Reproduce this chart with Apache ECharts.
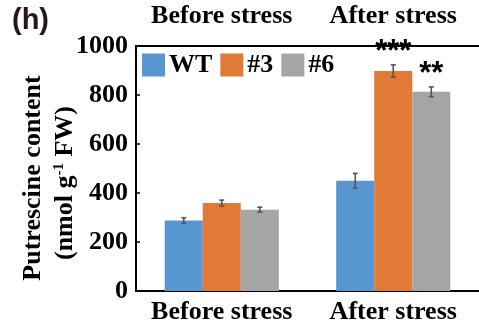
<!DOCTYPE html>
<html><head><meta charset="utf-8">
<script src="https://cdn.jsdelivr.net/npm/echarts@6/dist/echarts.min.js"></script>
<style>html,body{margin:0;padding:0;background:#fff}#c{width:479px;height:327px}</style>
</head><body><div id="c"></div>
<script>
const categories = ['Before stress', 'After stress'];
const seriesNames = ['WT', '#3', '#6'];
const wtValues = [288, 450];
const l3Values = [359, 898];
const l6Values = [332, 813];
const wtErr = [11, 30];
const l3Err = [12, 25];
const l6Err = [10, 20];
const wtSig = ['', ''];
const l3Sig = ['', '***'];
const l6Sig = ['', '**'];
const yTicks = [0, 200, 400, 600, 800, 1000];
const colors = ['#5796CE', '#E17A37', '#A5A5A5'];

const values = [wtValues, l3Values, l6Values];
const errs = [wtErr, l3Err, l6Err];
const sigs = [wtSig, l3Sig, l6Sig];
const font = '"Liberation Serif","Times New Roman",serif';
const gapRatio = 0.335;

const chart = echarts.init(document.getElementById('c'));
const series = [];
seriesNames.forEach((n, i) => {
  series.push({
    name: n, type: 'bar', data: values[i], barGap: 0, barCategoryGap: (gapRatio*100)+'%',
    itemStyle: {color: colors[i]}, xAxisIndex: 0
  });
});
seriesNames.forEach((n, i) => {
  series.push({
    type: 'custom', xAxisIndex: 0, z: 10, silent: true,
    data: values[i].map((v, j) => [j, v, errs[i][j]]),
    renderItem: function (params, api) {
      const x = api.value(0), v = api.value(1), e = api.value(2);
      const sig = sigs[i][x];
      const band = api.size([1, 0])[0];
      const bw = band * (1 - gapRatio) / 3;
      const c = api.coord([x, v]);
      const cx = c[0] + (i - 1) * bw;
      const top = api.coord([x, v + e])[1];
      const bot = api.coord([x, v - e])[1];
      const style = {stroke: '#555', lineWidth: 1.6};
      const hw = 2.5;
      const ch = [
        {type: 'line', shape: {x1: cx, y1: top, x2: cx, y2: bot}, style: style},
        {type: 'line', shape: {x1: cx - hw, y1: top, x2: cx + hw, y2: top}, style: style},
        {type: 'line', shape: {x1: cx - hw, y1: bot, x2: cx + hw, y2: bot}, style: style}
      ];
      if (sig) {
        ch.push({type: 'text', x: cx, y: top + 3, style: {text: sig, fill: '#000', font: 'bold 31px "Liberation Sans",Arial,sans-serif', textAlign: 'center', textVerticalAlign: 'bottom'}});
      }
      return {type: 'group', children: ch};
    }
  });
});

chart.setOption({
  animation: false,
  grid: {left: 136, top: 46, bottom: 36, right: -5, containLabel: false},
  legend: {
    data: seriesNames, left: 137, top: 47, itemWidth: 23, itemHeight: 23, itemGap: 8,
    icon: 'rect', textStyle: {fontFamily: font, fontWeight: 'bold', fontSize: 26, color: '#000', padding: [0, 0, 0, -1]}
  },
  xAxis: [{
    type: 'category', data: categories, position: 'bottom',
    axisLine: {lineStyle: {color: '#000', width: 2}}, axisTick: {show: false},
    axisLabel: {interval: 0, color: '#000', fontFamily: font, fontWeight: 'bold', fontSize: 26, margin: 8}
  }, {
    type: 'category', data: categories, position: 'top',
    axisLine: {lineStyle: {color: '#000', width: 2}}, axisTick: {show: false},
    axisLabel: {interval: 0, color: '#000', fontFamily: font, fontWeight: 'bold', fontSize: 26, margin: 17}
  }],
  yAxis: {
    type: 'value', min: 0, max: 1000, interval: 200,
    axisLine: {show: true, lineStyle: {color: '#000', width: 2}},
    axisTick: {show: true, inside: true, length: 4, lineStyle: {color: '#000', width: 1.5}},
    splitLine: {show: false},
    axisLabel: {color: '#000', fontFamily: font, fontWeight: 'bold', fontSize: 26, margin: 8,
      formatter: v => yTicks.includes(v) ? String(v) : ''}
  },
  graphic: [
    {type: 'text', left: 12, top: 6, style: {text: '(h)', font: 'bold 29px "Liberation Sans",Arial,sans-serif', fill: '#231815'}},
    {type: 'text', x: 33, y: 178, rotation: Math.PI/2, style: {
      text: 'Putrescine content', font: 'bold 26px ' + font, fill: '#000', textAlign: 'center', textVerticalAlign: 'middle'}},
    {type: 'text', x: 65, y: 183, rotation: Math.PI/2, style: {
      text: '{a|(nmol g}{s|-1}{a| FW)}', fill: '#000', textAlign: 'center', textVerticalAlign: 'middle',
      rich: {a: {font: 'bold 26px ' + font, fill: '#000'}, s: {font: 'bold 15px ' + font, fill: '#000', verticalAlign: 'top', padding: [0,0,10,0]}}}}
  ],
  series: series
});
</script></body></html>
